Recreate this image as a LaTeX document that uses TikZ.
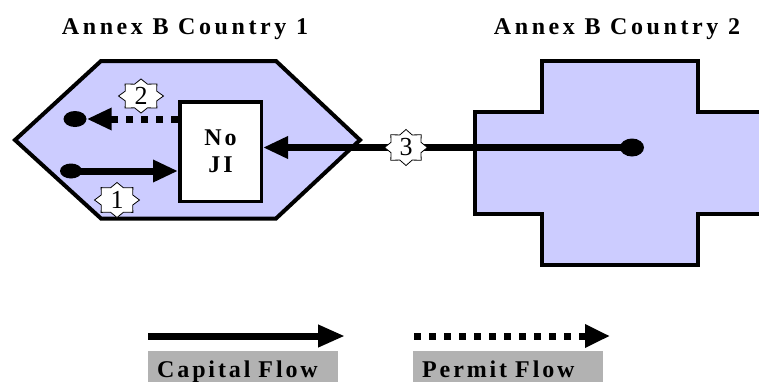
\documentclass[tikz,border=0pt]{standalone}
\usepackage{fontspec}
\setmainfont{Liberation Serif}
\newfontfamily\spacedfont[LetterSpace=12]{Liberation Serif}
\newfontfamily\titlefont[LetterSpace=15]{Liberation Serif}
\usetikzlibrary{arrows.meta,shapes.geometric,calc}
\definecolor{lav}{RGB}{204,204,255}
\definecolor{legendgray}{RGB}{178,178,178}
\newcommand\flowstar[5]{%
  \draw[starline] ($(#1)+(0:#2 and #3)$)
    \foreach \a in {0,45,...,315}{ -- ($(#1)+(\a:#2 and #3)$) -- ($(#1)+(\a+22.5:#4 and #5)$)} -- cycle;}
\begin{document}
\begin{tikzpicture}[x=1pt,y=-1pt,
  country/.style={draw=black, line width=4pt, fill=lav, line join=miter},
  titletext/.style={font=\titlefont\bfseries\fontsize{24}{28}\selectfont, inner sep=0pt},
  jibox/.style={draw=black, line width=3.5pt, fill=white, minimum width=81.5pt, minimum height=99.5pt,
    align=center, inner sep=0pt, font=\spacedfont\bfseries\fontsize{24}{27}\selectfont},
  dotnode/.style={ellipse, fill=black, inner sep=0pt},
  capflow/.style={line width=7pt, -{Triangle[length=25pt,width=21pt]}},
  permflow/.style={line width=7pt, dash pattern=on 7pt off 8pt, -{Triangle[length=25pt,width=21pt]}},
  starline/.style={draw=black, line width=0.8pt, fill=white, line join=miter},
  num/.style={font=\fontsize{26}{26}\selectfont, inner sep=0pt},
  legendbox/.style={fill=legendgray, text width=172pt, inner xsep=9pt, inner ysep=0pt,
    text height=26pt, text depth=10pt, align=left, font=\spacedfont\bfseries\fontsize{24}{27}\selectfont}
]
\useasboundingbox (0,0) rectangle (759,381);
\fill[white] (0,0) rectangle (759,381);

% titles
\node[titletext, anchor=base] (t1) at (185,34) {Annex B Country 1};
\node[titletext, anchor=base] (t2) at (617,34) {Annex B Country 2};

% country shapes
\draw[country] (101,61) -- (276,61) -- (360,140) -- (276,218.5) -- (101,218.5) -- (15,140) -- cycle;
\draw[country] (541.5,60.5) -- (697.5,60.5) -- (697.5,111.5) -- (800,111.5) -- (800,213.5)
  -- (697.5,213.5) -- (697.5,264.5) -- (541.5,264.5) -- (541.5,213.5) -- (474.5,213.5)
  -- (474.5,111.5) -- (541.5,111.5) -- cycle;

% box
\node[jibox] (ji) at (220.5,151.5) {No\\JI};

% dots
\node[dotnode, minimum width=22pt, minimum height=15pt] (d1) at (71,171) {};
\node[dotnode, minimum width=23pt, minimum height=16pt] (d2) at (75,119) {};
\node[dotnode, minimum width=24pt, minimum height=18pt] (d3) at (632,147.5) {};

% flows
\draw[capflow] (d1.center) -- (ji.west |- d1);
\draw[permflow] (ji.west |- d2) -- (d2.east);
\draw[capflow] (d3.center) -- (ji.east |- d3);

% stars with numbers
\coordinate (c1) at (117,200);
\coordinate (c2) at (141,96);
\coordinate (c3) at (406,147.5);
\flowstar{c1}{22.5}{17.5}{17}{13.2}
\flowstar{c2}{22.5}{17}{17}{12.8}
\flowstar{c3}{21.5}{18}{16.2}{13.6}
\node[num] (n1) at (c1) {1};
\node[num] (n2) at (c2) {2};
\node[num] (n3) at (c3) {3};

% legend
\coordinate (ca) at (148,336);
\coordinate (cb) at (345,336);
\coordinate (pa) at (414,336);
\coordinate (pb) at (610,336);
\draw[capflow, -{Triangle[length=27pt,width=21pt]}] (ca) -- (cb);
\draw[permflow, -{Triangle[length=25pt,width=22pt]}] (pa) -- (pb);
\node[legendbox, anchor=base west] (lc) at (148,377) {Capital Flow};
\node[legendbox, anchor=base west] (lp) at (413,377) {Permit Flow};
\end{tikzpicture}
\end{document}
